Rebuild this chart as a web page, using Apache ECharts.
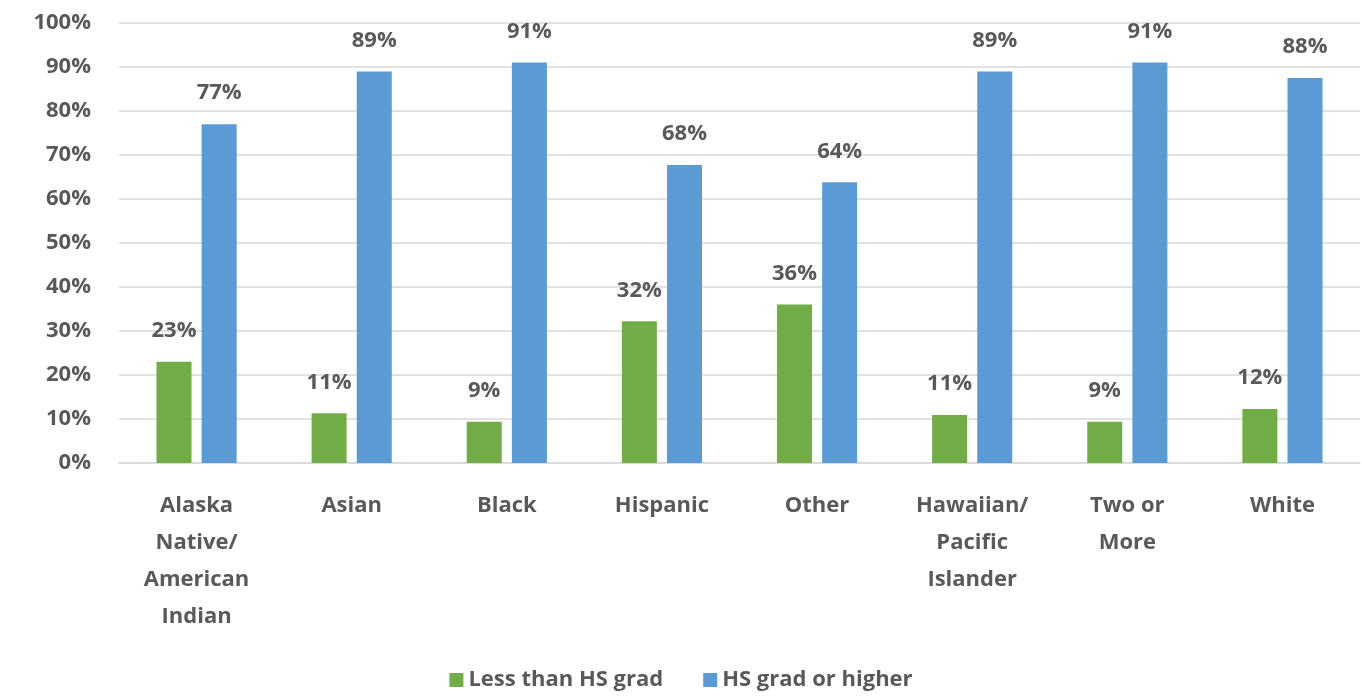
<!DOCTYPE html>
<html><head><meta charset="utf-8">
<script src="https://cdn.jsdelivr.net/npm/echarts@6/dist/echarts.min.js"></script>
<style>html,body{margin:0;padding:0;background:#fff}#c{width:1362px;height:698px}</style>
</head><body><div id="c"></div>
<script>
const categories = ["Alaska\nNative/\nAmerican\nIndian", "Asian", "Black", "Hispanic", "Other", "Hawaiian/\nPacific\nIslander", "Two or\nMore", "White"];
const lessThanHS = [23, 11.3, 9.4, 32.2, 36, 10.9, 9.4, 12.3];
const hsOrHigher = [77, 89, 91, 67.7, 63.8, 89, 91, 87.5];
const seriesNames = ["Less than HS grad", "HS grad or higher"];

const font = "'Open Sans', sans-serif";
const txt = '#595959';
const lbl = {show: true, position: 'top', distance: 20, color: txt, fontFamily: font, fontWeight: 'bold', fontSize: 22,
  formatter: p => Math.round(p.value) + '%'};
const chart = echarts.init(document.getElementById('c'));
chart.setOption({
  animation: false,
  grid: {left: 119, right: 2, top: 23, bottom: 235},
  legend: {bottom: 2, left: 'center', itemWidth: 14, itemHeight: 14, itemGap: 40, icon: 'rect',
    textStyle: {color: txt, fontFamily: font, fontWeight: 'bold', fontSize: 22}},
  xAxis: {type: 'category', data: categories,
    axisLine: {lineStyle: {color: '#d9d9d9', width: 1.5}}, axisTick: {show: false},
    axisLabel: {color: txt, fontFamily: font, fontWeight: 'bold', fontSize: 22, lineHeight: 37, margin: 24, interval: 0}},
  yAxis: {type: 'value', min: 0, max: 100, interval: 10,
    axisLabel: {formatter: '{value}%', color: txt, fontFamily: font, fontWeight: 'bold', fontSize: 22, margin: 28},
    splitLine: {lineStyle: {color: '#d9d9d9', width: 1.5}}},
  series: [
    {name: seriesNames[0], type: 'bar', data: lessThanHS, barWidth: 35, barGap: '29%', itemStyle: {color: '#70AD47'}, label: lbl},
    {name: seriesNames[1], type: 'bar', data: hsOrHigher, barWidth: 35, itemStyle: {color: '#5B9BD5'}, label: lbl}
  ]
});
</script></body></html>
